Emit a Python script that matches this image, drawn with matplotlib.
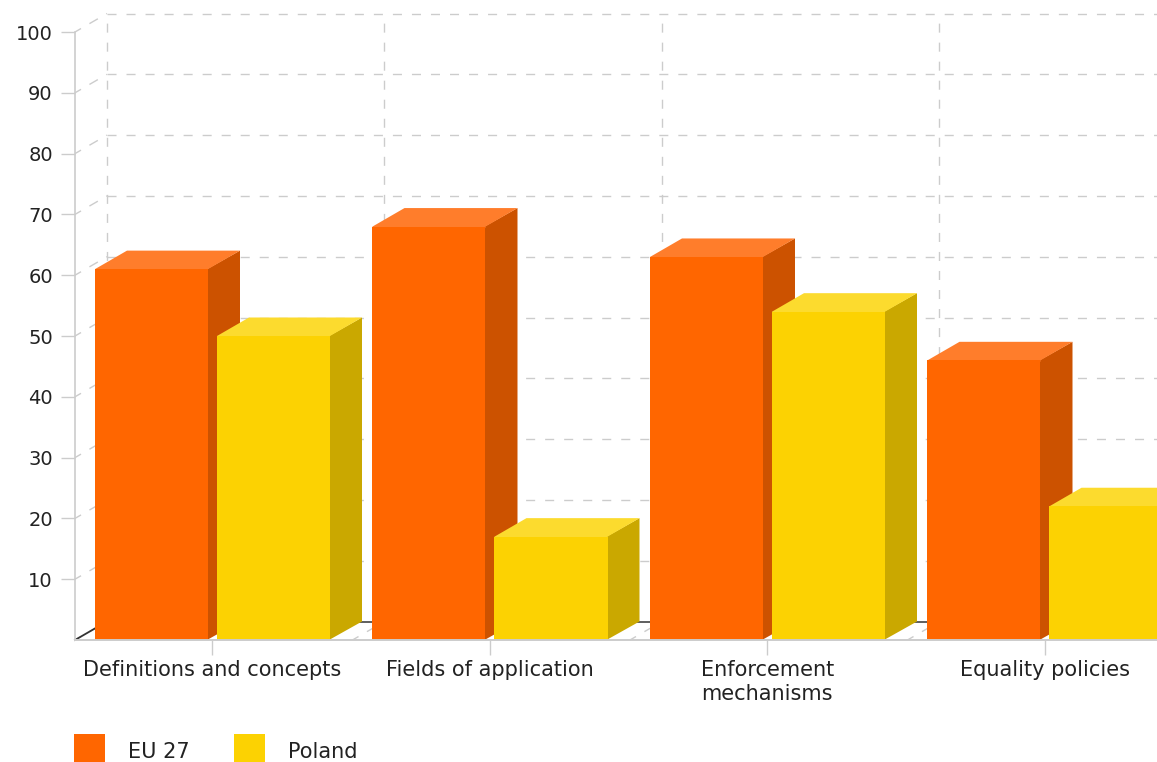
import matplotlib
matplotlib.use("Agg")
import matplotlib.pyplot as plt
from matplotlib.patches import Polygon, Rectangle

categories = ["Definitions and concepts", "Fields of application", "Enforcement\nmechanisms", "Equality policies"]
eu27 = [61, 68, 63, 46]
poland = [50, 17, 54, 22]
y_ticks = [10, 20, 30, 40, 50, 60, 70, 80, 90, 100]
series_names = ["EU 27", "Poland"]

W, H = 1157, 762
FRONT = {"EU 27": "#FF6600", "Poland": "#FCD202"}
TOP = {"EU 27": "#FF7D2B", "Poland": "#FCDB2E"}
SIDE = {"EU 27": "#CC5200", "Poland": "#CAA800"}
GRID = "#CCCCCC"
TXT = "#222222"

fig = plt.figure(figsize=(W / 100, H / 100), dpi=100, facecolor="white")
L, B, T = 75, 640, 32
ax = fig.add_axes([L / W, (H - B) / H, (W - L) / W, (B - T) / H])
CAT_W = 277.5
ax.set_xlim(0, (W - L) / CAT_W)
ax.set_ylim(0, 100)
for s in ax.spines.values():
    s.set_visible(False)
ax.patch.set_alpha(0)

px = 1 / CAT_W            # one pixel in x data units
py = 100 / (B - T)        # one pixel in y data units
DX, DY = 32 * px, 18.5 * py
dash = (0, (6.5, 7.2))
lw = 1.0

# back wall grid and floor
for v in y_ticks:
    ax.plot([0, DX], [v, v + DY], color=GRID, lw=lw, ls=(2, (7, 7)), clip_on=False, zorder=1)
    ax.plot([DX, ax.get_xlim()[1]], [v + DY, v + DY], color=GRID, lw=lw, ls=dash, clip_on=False, zorder=1)
for i in range(len(categories)):
    ax.plot([i + DX, i + DX], [DY, 100 + DY], color=GRID, lw=lw, ls=dash, clip_on=False, zorder=1)
    ax.plot([i, i + DX], [0, DY], color=GRID, lw=lw, ls=(2, (7, 7)), clip_on=False, zorder=1)
ax.plot([0, DX], [0, DY], color="#333333", lw=1.3, zorder=1.5, clip_on=False)
ax.plot([DX, ax.get_xlim()[1]], [DY, DY], color="#333333", lw=1.1, zorder=1.5, clip_on=False)

# 3D bars
BAR_W = 113 * px
offsets = [20 * px, 142 * px]
for si, (name, vals) in enumerate(zip(series_names, [eu27, poland])):
    for i, v in enumerate(vals):
        x0 = i + offsets[si]
        x1 = x0 + BAR_W
        z = 3 + si + i * 2
        ax.add_patch(Polygon([(x1 - px, 0), (x1 + DX, DY), (x1 + DX, v + DY), (x1 - px, v)],
                             closed=True, fc=SIDE[name], ec="none", zorder=z, clip_on=False))
        ax.add_patch(Polygon([(x0, v - 1.5 * py), (x1, v - 1.5 * py), (x1, v), (x1 + DX, v + DY), (x0 + DX, v + DY), (x0, v)],
                             closed=True, fc=TOP[name], ec="none", zorder=z + 0.1, clip_on=False))
        ax.bar(x0, v, width=BAR_W, align="edge", color=FRONT[name], lw=0, zorder=z + 0.2)

# axes lines
ax.plot([0, 0], [0, 100], color=GRID, lw=1.2, clip_on=False, zorder=20)
ax.plot([0, ax.get_xlim()[1]], [0, 0], color=GRID, lw=1.4, clip_on=False, zorder=20)

ax.set_yticks(y_ticks)
ax.set_yticklabels([str(v) for v in y_ticks], fontsize=14, color=TXT, family="DejaVu Sans")
ax.tick_params(axis="y", length=10, width=1, color=GRID, pad=6)
ax.set_xticks([i + 0.495 for i in range(len(categories))])
ax.set_xticklabels(categories, fontsize=15, color=TXT, family="DejaVu Sans", linespacing=1.22)
ax.tick_params(axis="x", length=11, width=1, color=GRID, pad=3.5)

# legend
for (lx, name) in zip([74, 234], series_names):
    fig.add_artist(Rectangle((lx / W, 0), 31 / W, 28 / H, transform=fig.transFigure,
                             fc=FRONT[name], ec="none"))
    fig.text((lx + 54) / W, (H - 752) / H, name, fontsize=15, color=TXT, va="center", ha="left")

fig.savefig("out.png", dpi=100)
